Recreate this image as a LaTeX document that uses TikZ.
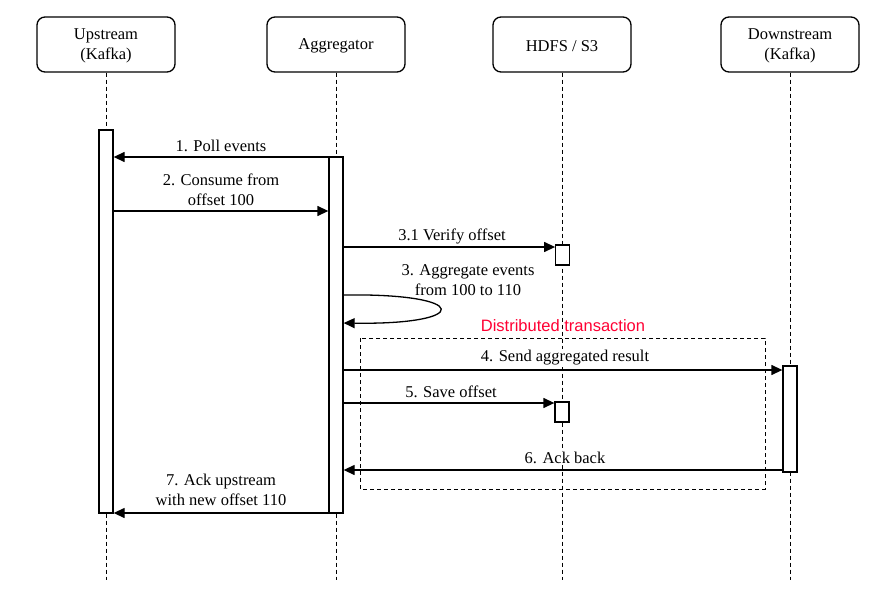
\documentclass[tikz,border=0pt]{standalone}
\usepackage{fontspec}
\setmainfont{Liberation Serif}
\setsansfont{Liberation Sans}
\usetikzlibrary{arrows.meta}
\definecolor{txred}{RGB}{255,0,51}
\begin{document}
\begin{tikzpicture}[x=1pt,y=-1pt,
  every node/.style={font=\fontsize{16.5}{19.8}\selectfont},
  head/.style={draw, line width=1.3pt, rounded corners=8pt, minimum width=138pt, minimum height=55pt, inner sep=0pt, fill=white},
  headtxt/.style={align=center, inner sep=0pt},
  life/.style={line width=1pt, dash pattern=on 4pt off 3pt},
  bar/.style={draw, line width=1.3pt, fill=white},
  msg/.style={line width=1.3pt, -{Triangle[length=11pt,width=10pt]}},
  lbl/.style={fill=white, inner sep=1pt, align=center},
  frame/.style={line width=1pt, dash pattern=on 4pt off 3pt}
]
\useasboundingbox (0,0) rectangle (881,591);
% headers
\node[head] (up) at (106,44.5) {};
\node[head] (agg) at (336,44.5) {};
\node[head] (hdfs) at (562,44.5) {};
\node[head] (down) at (790,44.5) {};
\node[headtxt] (uptxt) at ([yshift=-1.5pt]up.center) {Upstream\\(Kafka)};
\node[headtxt] (aggtxt) at ([yshift=-1.5pt]agg.center) {Aggregator};
\node[headtxt] (hdfstxt) at ([yshift=-1.5pt]hdfs.center) {HDFS / S3};
\node[headtxt] (downtxt) at ([yshift=-1.5pt]down.center) {Downstream\\(Kafka)};
% lifelines
\coordinate (upend) at (106,580);
\coordinate (aggend) at (336,580);
\coordinate (hdfsend) at (562,580);
\coordinate (downend) at (790,580);
\draw[life] (up.south) -- (upend);
\draw[life] (agg.south) -- (aggend);
\draw[life] (hdfs.south) -- (hdfsend);
\draw[life] (down.south) -- (downend);
% distributed transaction frame
\draw[frame] (360,338) rectangle (765,489);
\node[font=\sffamily\fontsize{16.5}{19.8}\selectfont, text=txred] (dt) at (563,326) {Distributed transaction};
% activation bars
\node[bar, minimum width=14pt, minimum height=383pt, inner sep=0pt] (upbar) at (106,321.5) {};
\node[bar, minimum width=14pt, minimum height=356pt, inner sep=0pt] (aggbar) at (336,335) {};
\node[bar, minimum width=13.5pt, minimum height=20pt, inner sep=0pt] (hbar1) at (562.5,255) {};
\node[bar, minimum width=14pt, minimum height=20pt, inner sep=0pt] (hbar2) at (562,412) {};
\node[bar, minimum width=14pt, minimum height=106pt, inner sep=0pt] (downbar) at (790,419) {};
% messages
\draw[msg] (aggbar.west |- 0,157) -- (upbar.east |- 0,157);
\node[lbl] (l1) at (221,146) {1. Poll events};
\draw[msg] (upbar.east |- 0,211) -- (aggbar.west |- 0,211);
\node[lbl] (l2) at (221,190) {2. Consume from\\offset 100};
\draw[msg] (aggbar.east |- 0,247) -- (hbar1.west |- 0,247);
\node[lbl] (l31) at (452,236) {3.1 Verify offset};
\node[lbl] (l3) at (468,280.5) {3. Aggregate events\\from 100 to 110};
\draw[msg] (aggbar.east |- 0,295) .. controls (472,293) and (472,325) .. (aggbar.east |- 0,323);
\draw[msg] (aggbar.east |- 0,370) -- (downbar.west |- 0,370);
\node[lbl] (l4) at (565,358) {4. Send aggregated result};
\draw[msg] (aggbar.east |- 0,403) -- (hbar2.west |- 0,403);
\node[lbl] (l5) at (451,392) {5. Save offset};
\draw[msg] (downbar.west |- 0,470) -- (aggbar.east |- 0,470);
\node[lbl] (l6) at (565,458) {6. Ack back};
\draw[msg] (aggbar.west |- 0,513) -- (upbar.east |- 0,513);
\node[lbl] (l7) at (221,490) {7. Ack upstream\\with new offset 110};
\end{tikzpicture}
\end{document}
